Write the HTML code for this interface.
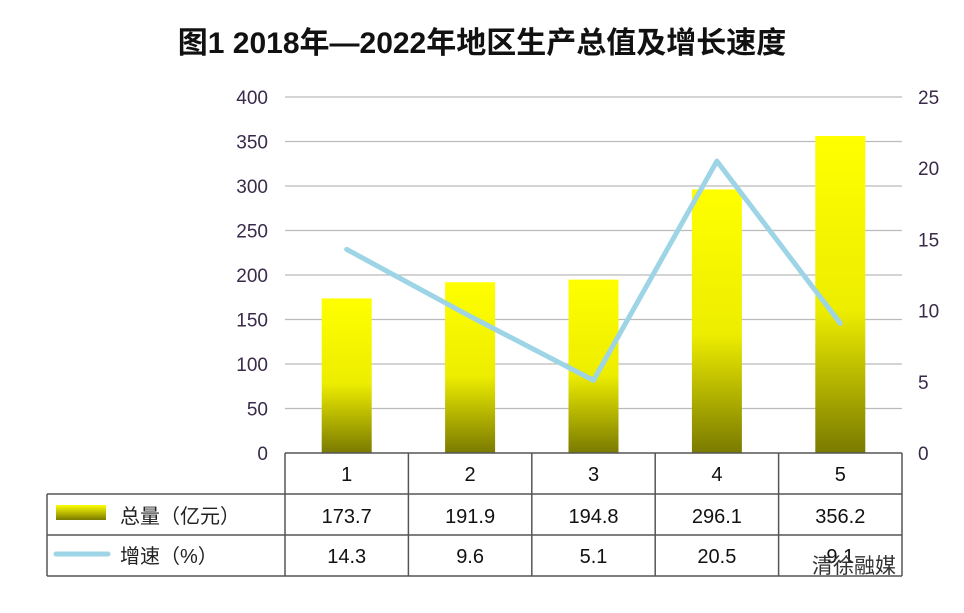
<!DOCTYPE html>
<html><head><meta charset="utf-8"><style>
body{margin:0;background:#fff;font-family:"Liberation Sans","Noto Sans CJK SC",sans-serif;}
svg text{font-family:"Liberation Sans","Noto Sans CJK SC",sans-serif;}
</style></head><body>
<svg id="c" width="964" height="608">
<defs><linearGradient id="g" x1="0" y1="0" x2="0" y2="1"><stop offset="0" stop-color="#ffff00"/><stop offset="0.55" stop-color="#eded00"/><stop offset="1" stop-color="#7a7a00"/></linearGradient>
<linearGradient id="lg" x1="0" y1="0" x2="0" y2="1"><stop offset="0" stop-color="#ffff00"/><stop offset="1" stop-color="#7a7a00"/></linearGradient></defs>
<text x="482" y="53" text-anchor="middle" font-size="30" font-weight="bold" fill="#111">图1  2018年—2022年地区生产总值及增长速度</text>
</svg>
<script>
const categories=["1","2","3","4","5"];
const totals=[173.7,191.9,194.8,296.1,356.2];
const growth=[14.3,9.6,5.1,20.5,9.1];
const leftTicks=[0,50,100,150,200,250,300,350,400];
const rightTicks=[0,5,10,15,20,25];
const totalLabels=["173.7","191.9","194.8","296.1","356.2"];
const growthLabels=["14.3","9.6","5.1","20.5","9.1"];
const svg=document.getElementById('c');const NS='http://www.w3.org/2000/svg';
function mk(t,a,p){const e=document.createElementNS(NS,t);for(const k in a)e.setAttribute(k,a[k]);(p||svg).appendChild(e);return e;}
const L=285,R=902,T=97,B=453,cw=(R-L)/categories.length;
const yL=v=>B-(v/400)*(B-T), yR=v=>B-(v/25)*(B-T), xc=i=>L+cw*(i+0.5);
leftTicks.forEach(v=>{if(v>0){const l=mk('line',{x1:L,x2:R,y1:yL(v),y2:yL(v),stroke:'#bbb','stroke-width':1.2});}
const t=mk('text',{x:268,y:yL(v)+7,'text-anchor':'end','font-size':19,fill:'#3a2a4a'});t.textContent=v;});
rightTicks.forEach(v=>{const t=mk('text',{x:918,y:yR(v)+7,'font-size':19,fill:'#3a2a4a'});t.textContent=v;});
totals.forEach((v,i)=>{const r=mk('rect',{x:xc(i)-25,y:yL(v),width:50,height:B-yL(v),fill:'url(#g)'});});
const pl=mk('polyline',{points:growth.map((v,i)=>xc(i)+','+yR(v)).join(' '),fill:'none',stroke:'#9dd4e6','stroke-width':5,'stroke-linecap':'round','stroke-linejoin':'round'});

const rows=[453,494,535,576],TL=47;
const g=mk('g',{stroke:'#555','stroke-width':1.5,fill:'none'});
mk('line',{x1:L,x2:R,y1:rows[0],y2:rows[0]},g);
rows.slice(1).forEach(y=>mk('line',{x1:TL,x2:R,y1:y,y2:y},g));
mk('line',{x1:TL,x2:TL,y1:rows[1],y2:rows[3]},g);
for(let i=0;i<=5;i++)mk('line',{x1:L+cw*i,x2:L+cw*i,y1:rows[0],y2:rows[3]},g);
categories.forEach((c,i)=>{const t=mk('text',{x:xc(i),y:481,'text-anchor':'middle','font-size':20,fill:'#111'});t.textContent=c;});
totalLabels.forEach((c,i)=>{const t=mk('text',{x:xc(i),y:523,'text-anchor':'middle','font-size':20,fill:'#111'});t.textContent=c;});
growthLabels.forEach((c,i)=>{const t=mk('text',{x:xc(i),y:563,'text-anchor':'middle','font-size':20,fill:'#111'});t.textContent=c;});
const k1=mk('rect',{x:56,y:505,width:50,height:15,fill:'url(#lg)'});
const t1=mk('text',{x:120,y:523,'font-size':20,fill:'#222'});t1.textContent='总量（亿元）';
const k2=mk('line',{x1:56,x2:108,y1:554,y2:554,stroke:'#9dd4e6','stroke-width':5,'stroke-linecap':'round'});
const t2=mk('text',{x:120,y:563,'font-size':20,fill:'#222'});t2.textContent='增速（%）';
const w=mk('text',{x:812,y:573,'font-size':21,fill:'#333'});w.textContent='清徐融媒';
</script>
</body></html>
